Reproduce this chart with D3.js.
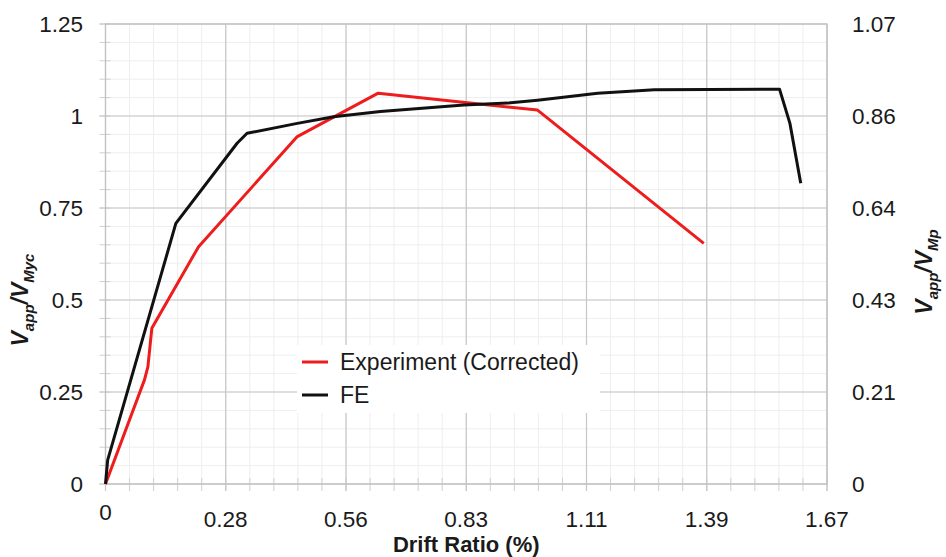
<!DOCTYPE html>
<html>
<head>
<meta charset="utf-8">
<script src="https://cdn.jsdelivr.net/npm/d3@7"></script>
<style>
  html, body { margin: 0; padding: 0; background: #fff; }
  svg { display: block; font-family: "Liberation Sans", Arial, sans-serif; }
</style>
</head>
<body>
<svg id="chart" width="946" height="557"></svg>
<script>
// Drift ratio (%) vs normalised shear, left axis V_app/V_Myc
const experimentDrift = [0, 0.090, 0.098, 0.107, 0.215, 0.443, 0.630, 0.998, 1.382];
const experimentShear = [0, 0.283, 0.319, 0.423, 0.645, 0.944, 1.062, 1.016, 0.654];

const feDrift = [0, 0.005, 0.1625, 0.304, 0.327, 0.443, 0.527, 0.635, 0.828, 0.929, 0.998, 1.137, 1.268, 1.557, 1.581, 1.606];
const feShear = [0, 0.065, 0.708, 0.926, 0.953, 0.980, 0.998, 1.012, 1.030, 1.035, 1.043, 1.062, 1.071, 1.073, 0.980, 0.817];

const xTickLabels = ["0", "0.28", "0.56", "0.83", "1.11", "1.39", "1.67"];
const yTickLabels = ["0", "0.25", "0.5", "0.75", "1", "1.25"];
const yRightTickLabels = ["0", "0.21", "0.43", "0.64", "0.86", "1.07"];
const seriesNames = ["Experiment (Corrected)", "FE"];
const seriesColors = ["#ee1c1c", "#111111"];

const xStep = 5 / 18;           // major drift ratio step
const xTicks = xTickLabels.map((d, i) => i * xStep);
const xMinor = d3.range(0, 31).map(i => i * xStep / 5);
const yTicks = yTickLabels.map(Number);
const yMinor = d3.range(0, 26).map(i => i * 0.05);
const mpRatio = 6 / 7;          // V_Mp / V_Myc conversion for the right axis

const svg = d3.select("#chart");
const plotL = 105.5, plotR = 827, plotT = 24, plotB = 484;

const x = d3.scaleLinear().domain([0, 6 * xStep]).range([plotL, plotR]);
const y = d3.scaleLinear().domain([0, 1.25]).range([plotB, plotT]);
const yR = d3.scaleLinear().domain([0, 1.25 * mpRatio]).range([plotB, plotT]);

const grid = svg.append("g");

// minor grid
grid.selectAll(".mx").data(xMinor).join("line")
  .attr("class", "mx")
  .attr("x1", d => x(d)).attr("x2", d => x(d))
  .attr("y1", plotT).attr("y2", plotB)
  .attr("stroke", "#eeeeee").attr("stroke-width", 1);
grid.selectAll(".my").data(yMinor).join("line")
  .attr("class", "my")
  .attr("x1", plotL).attr("x2", plotR)
  .attr("y1", d => y(d)).attr("y2", d => y(d))
  .attr("stroke", "#eeeeee").attr("stroke-width", 1);

// minor tick marks across the axes
grid.selectAll(".tx").data(xMinor).join("line")
  .attr("class", "tx")
  .attr("x1", d => x(d)).attr("x2", d => x(d))
  .attr("y1", plotB - 6).attr("y2", plotB + 7)
  .attr("stroke", "#d0d0d0").attr("stroke-width", 1);
grid.selectAll(".ty").data(yMinor).join("line")
  .attr("class", "ty")
  .attr("x1", plotL - 6).attr("x2", plotL + 5)
  .attr("y1", d => y(d)).attr("y2", d => y(d))
  .attr("stroke", "#d0d0d0").attr("stroke-width", 1);

// major grid
grid.selectAll(".gx").data(xTicks).join("line")
  .attr("class", "gx")
  .attr("x1", d => x(d)).attr("x2", d => x(d))
  .attr("y1", plotT).attr("y2", plotB + 7)
  .attr("stroke", "#c6c6c6").attr("stroke-width", 1.2);
grid.selectAll(".gy").data(yTicks).join("line")
  .attr("class", "gy")
  .attr("x1", plotL - 6).attr("x2", plotR)
  .attr("y1", d => y(d)).attr("y2", d => y(d))
  .attr("stroke", "#c6c6c6").attr("stroke-width", 1.2);

// plot frame
svg.append("rect")
  .attr("x", plotL).attr("y", plotT)
  .attr("width", plotR - plotL).attr("height", plotB - plotT)
  .attr("fill", "none").attr("stroke", "#c0c0c0").attr("stroke-width", 1.2);

// tick labels
const lab = svg.append("g").attr("fill", "#1a1a1a").attr("font-size", 22.5);
lab.selectAll(".xl").data(xTicks).join("text")
  .attr("class", "xl")
  .attr("x", d => x(d))
  .attr("y", (d, i) => i === 0 ? 520 : 527)
  .attr("text-anchor", "middle")
  .text((d, i) => xTickLabels[i]);
lab.selectAll(".yl").data(yTicks).join("text")
  .attr("class", "yl")
  .attr("x", 83)
  .attr("y", d => y(d) + 8)
  .attr("text-anchor", "end")
  .text((d, i) => yTickLabels[i]);
lab.selectAll(".yr").data(yTicks.map(v => v * mpRatio)).join("text")
  .attr("class", "yr")
  .attr("x", 852)
  .attr("y", d => yR(d) + 8)
  .attr("text-anchor", "start")
  .text((d, i) => yRightTickLabels[i]);

// axis titles
svg.append("text")
  .attr("x", (plotL + plotR) / 2).attr("y", 552)
  .attr("text-anchor", "middle")
  .attr("font-size", 22).attr("font-weight", "bold").attr("fill", "#1a1a1a")
  .text("Drift Ratio (%)");

function ratioTitle(g, denomSub) {
  const t = g.append("text")
    .attr("text-anchor", "middle")
    .attr("font-size", 23).attr("font-weight", "bold").attr("font-style", "italic")
    .attr("fill", "#1a1a1a");
  t.append("tspan").text("V");
  t.append("tspan").attr("font-size", 15).attr("dy", 6).text("app");
  t.append("tspan").attr("dy", -6).text("/V");
  t.append("tspan").attr("font-size", 15).attr("dy", 6).text(denomSub);
  return t;
}
ratioTitle(svg.append("g").attr("transform", "translate(28,300) rotate(-90)"), "Myc");
ratioTitle(svg.append("g").attr("transform", "translate(932,272) rotate(-90)"), "Mp");

// data lines
const line = d3.line().x(d => x(d[0])).y(d => y(d[1]));
const series = [
  d3.zip(experimentDrift, experimentShear),
  d3.zip(feDrift, feShear)
];
svg.append("g").selectAll("path").data(series).join("path")
  .attr("d", line)
  .attr("fill", "none")
  .attr("stroke", (d, i) => seriesColors[i])
  .attr("stroke-width", 3)
  .attr("stroke-linejoin", "round");

// legend
const lg = svg.append("g");
lg.append("rect").attr("x", 297).attr("y", 345).attr("width", 303).attr("height", 68).attr("fill", "#fff");
const items = lg.selectAll(".li").data(seriesNames).join("g")
  .attr("class", "li")
  .attr("transform", (d, i) => `translate(302,${362 + i * 33})`);
items.append("line")
  .attr("x1", 0).attr("x2", 26).attr("y1", 0).attr("y2", 0)
  .attr("stroke", (d, i) => seriesColors[i]).attr("stroke-width", 3);
items.append("text")
  .attr("x", 38).attr("y", 8)
  .attr("font-size", 23).attr("fill", "#1a1a1a")
  .text(d => d);
</script>
</body>
</html>
